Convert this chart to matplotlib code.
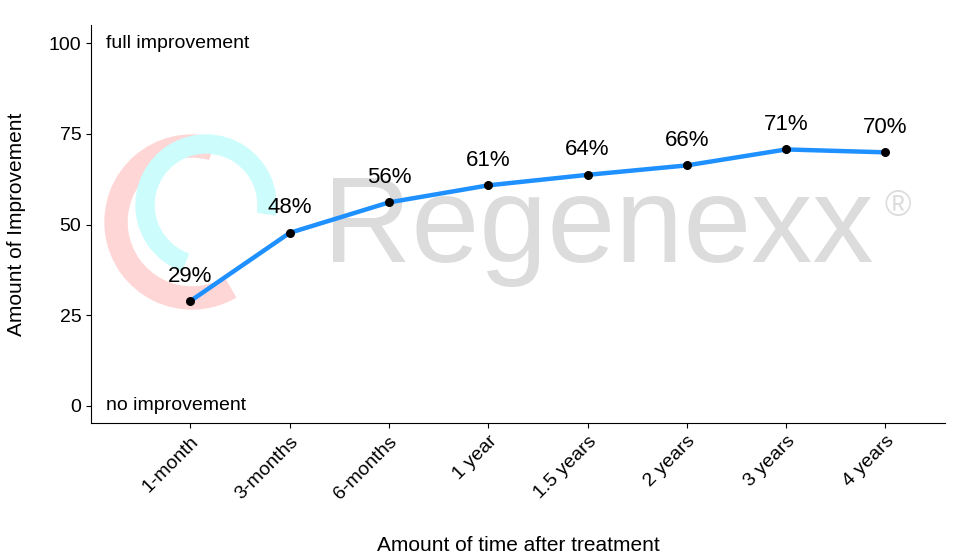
import matplotlib
matplotlib.use("Agg")
import matplotlib.pyplot as plt
from matplotlib.patches import Wedge

plt.rcParams["font.family"] = "Liberation Sans"

periods = ["1-month", "3-months", "6-months", "1 year", "1.5 years", "2 years", "3 years", "4 years"]
improvement = [28.9, 47.7, 56.1, 60.8, 63.7, 66.3, 70.7, 69.9]

fig = plt.figure(figsize=(9.71, 5.54), dpi=100)

# watermark layer in pixel coordinates
bg = fig.add_axes([0, 0, 1, 1], zorder=0)
bg.set_xlim(0, 971)
bg.set_ylim(554, 0)
bg.axis("off")
bg.add_patch(Wedge((192, 222), 87, 60, 285, width=22, color="#ffd6d6"))
bg.add_patch(Wedge((206, 205), 70, 110, 368, width=18, color="#ccfcfc"))
bg.text(598, 230, "Regenexx", fontsize=88, color="#dcdcdc", ha="center", va="center")
bg.text(898, 207, "®", fontsize=26, color="#dcdcdc", ha="center", va="center")

ax = fig.add_axes([91/971, 131/554, 854/971, 398/554], zorder=1)
ax.patch.set_alpha(0)
x = list(range(1, len(periods) + 1))
ax.plot(x, improvement, color="#1e90ff", lw=3.2, zorder=2)
ax.scatter(x, improvement, color="black", s=30, zorder=3)
for xi, v in zip(x, improvement):
    ax.text(xi, v + 4, "%d%%" % round(v), ha="center", va="bottom", fontsize=16)

ax.text(0.15, 100, "full improvement", fontsize=14, va="center")
ax.text(0.15, 0, "no improvement", fontsize=14, va="center")

ax.set_xlim(0, 8.6)
ax.set_ylim(-4.7, 105)
ax.set_yticks([0, 25, 50, 75, 100])
ax.set_xticks(x)
ax.set_xticklabels(periods, rotation=45, ha="right", rotation_mode="anchor")
ax.tick_params(labelsize=14)
for s in ["top", "right"]:
    ax.spines[s].set_visible(False)
ax.set_ylabel("Amount of Improvement", fontsize=15, labelpad=16)
ax.set_xlabel("Amount of time after treatment", fontsize=15, labelpad=24)

fig.savefig("out.png", dpi=100)
